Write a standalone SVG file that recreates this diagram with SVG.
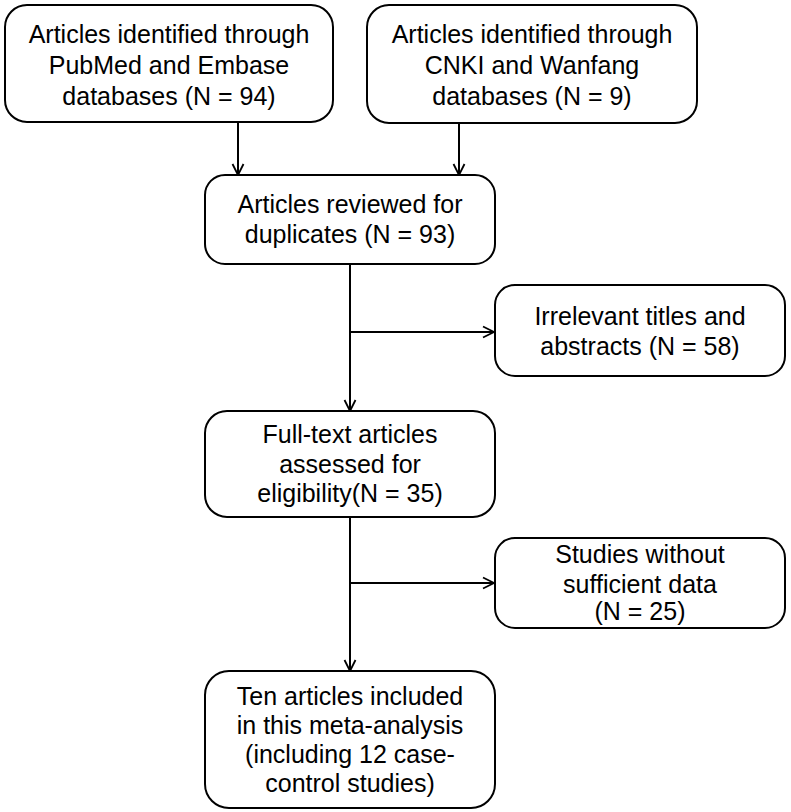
<svg xmlns="http://www.w3.org/2000/svg" width="791" height="812" viewBox="0 0 791 812">
<defs>
<style>
.box{fill:#fff;stroke:#000;stroke-width:2}
.t{font-family:"Liberation Sans",Arial,sans-serif;font-size:25px;fill:#000;text-anchor:middle}
.c{stroke:#000;stroke-width:2;fill:none}
</style>
<marker id="ah" viewBox="0 0 14 14" refX="13" refY="7" markerWidth="14" markerHeight="14" markerUnits="userSpaceOnUse" orient="auto">
<path d="M2,1.5 L13,7 L2,12.5" fill="none" stroke="#000" stroke-width="1.8"/>
</marker>
</defs>
<rect width="791" height="812" fill="#fff"/>
<g id="connectors">
<line class="c" x1="238" y1="122" x2="238" y2="175" marker-end="url(#ah)"/>
<line class="c" x1="459" y1="123" x2="459" y2="175" marker-end="url(#ah)"/>
<line class="c" x1="350" y1="264" x2="350" y2="411" marker-end="url(#ah)"/>
<line class="c" x1="350" y1="332" x2="494" y2="332" marker-end="url(#ah)"/>
<line class="c" x1="350" y1="517" x2="350" y2="671" marker-end="url(#ah)"/>
<line class="c" x1="350" y1="583" x2="494" y2="583" marker-end="url(#ah)"/>
</g>
<g id="n1">
<rect class="box" x="5" y="5" width="328" height="117" rx="22"/>
<text class="t" x="169" y="43">Articles identified through</text>
<text class="t" x="169" y="74">PubMed and Embase</text>
<text class="t" x="169" y="105">databases (N = 94)</text>
</g>
<g id="n2">
<rect class="box" x="367" y="5" width="330" height="118" rx="22"/>
<text class="t" x="532" y="43">Articles identified through</text>
<text class="t" x="532" y="74">CNKI and Wanfang</text>
<text class="t" x="532" y="105">databases (N = 9)</text>
</g>
<g id="n3">
<rect class="box" x="205" y="175" width="290" height="89" rx="20"/>
<text class="t" x="350" y="213">Articles reviewed for</text>
<text class="t" x="350" y="243">duplicates (N = 93)</text>
</g>
<g id="n4">
<rect class="box" x="495" y="285" width="290" height="91" rx="20"/>
<text class="t" x="640" y="325">Irrelevant titles and</text>
<text class="t" x="640" y="355">abstracts (N = 58)</text>
</g>
<g id="n5">
<rect class="box" x="205" y="411" width="290" height="106" rx="22"/>
<text class="t" x="350" y="443">Full-text articles</text>
<text class="t" x="350" y="473">assessed for</text>
<text class="t" x="350" y="502">eligibility(N = 35)</text>
</g>
<g id="n6">
<rect class="box" x="495" y="538" width="290" height="90" rx="20"/>
<text class="t" x="640" y="563">Studies without</text>
<text class="t" x="640" y="593">sufficient data</text>
<text class="t" x="640" y="620">(N = 25)</text>
</g>
<g id="n7">
<rect class="box" x="205" y="671" width="290" height="137" rx="24"/>
<text class="t" x="350" y="705">Ten articles included</text>
<text class="t" x="350" y="734">in this meta-analysis</text>
<text class="t" x="350" y="763">(including 12 case-</text>
<text class="t" x="350" y="792">control studies)</text>
</g>
</svg>
